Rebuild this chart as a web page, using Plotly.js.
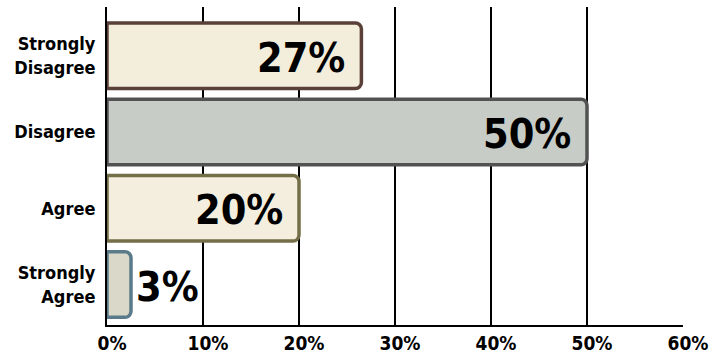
<!DOCTYPE html>
<html>
<head>
<meta charset="utf-8">
<script src="https://cdn.plot.ly/plotly-3.0.1.min.js"></script>
<style>html,body{margin:0;padding:0;background:#fff;}#chart{width:726px;height:360px;}</style>
</head>
<body>
<div id="chart"></div>
<script>
const categories = ["Strongly<br>Disagree", "Disagree", "Agree", "Strongly<br>Agree"];
const values = [26.5, 50, 20, 2.5];
const valueLabels = ["27%", "50%", "20%", "3%"];
const fillColors = ["#F3EDDC", "#C7CDC6", "#F3EEDD", "#D9D8C9"];
const borderColors = ["#5A4038", "#525252", "#746F49", "#5B7B8B"];
const tickValues = [0, 10, 20, 30, 40, 50, 60];
const tickLabels = ["0%", "10%", "20%", "30%", "40%", "50%", "60%"];

const FONT = '"DejaVu Sans Condensed", "Liberation Sans Narrow", "Arial Narrow", sans-serif';

const trace = {
  type: "bar",
  orientation: "h",
  y: categories,
  x: values,
  width: 0.86,
  marker: {
    color: fillColors,
    line: {color: borderColors, width: 3.5},
    cornerradius: 6
  },
  hoverinfo: "none"
};

const annotations = values.map((v, i) => {
  const inside = v > 10;
  return {
    x: v, y: categories[i], xref: "x", yref: "y",
    text: "<b>" + valueLabels[i] + "</b>",
    showarrow: false,
    xanchor: inside ? "right" : "left",
    xshift: inside ? -14 : 3,
    yshift: -2,
    font: {family: FONT, size: 41, color: "#000"}
  };
});

const layout = {
  width: 726, height: 360,
  margin: {l: 107, r: 43, t: 7, b: 35},
  paper_bgcolor: "#fff", plot_bgcolor: "#fff",
  showlegend: false,
  font: {family: FONT, color: "#000"},
  xaxis: {
    range: [0, 60],
    tickvals: tickValues, ticktext: tickLabels,
    showgrid: true, gridcolor: "#000", gridwidth: 2,
    zeroline: false,
    showline: true, linecolor: "#000", linewidth: 2,
    mirror: false,
    ticks: "",
    ticklabelshift: 5,
    ticklabelstandoff: 0,
    tickfont: {family: FONT, size: 19, color: "#000", weight: "bold"},
    fixedrange: true
  },
  yaxis: {
    type: "category",
    categoryorder: "array", categoryarray: categories,
    range: [3.53, -0.64],
    showgrid: false, zeroline: false,
    showline: true, linecolor: "#000", linewidth: 2,
    ticks: "",
    ticklabelstandoff: 6,
    tickfont: {family: FONT, size: 18, color: "#000", weight: "bold"},
    fixedrange: true
  },
  annotations: annotations
};

Plotly.newPlot("chart", [trace], layout, {displayModeBar: false, staticPlot: true});
</script>
</body>
</html>
